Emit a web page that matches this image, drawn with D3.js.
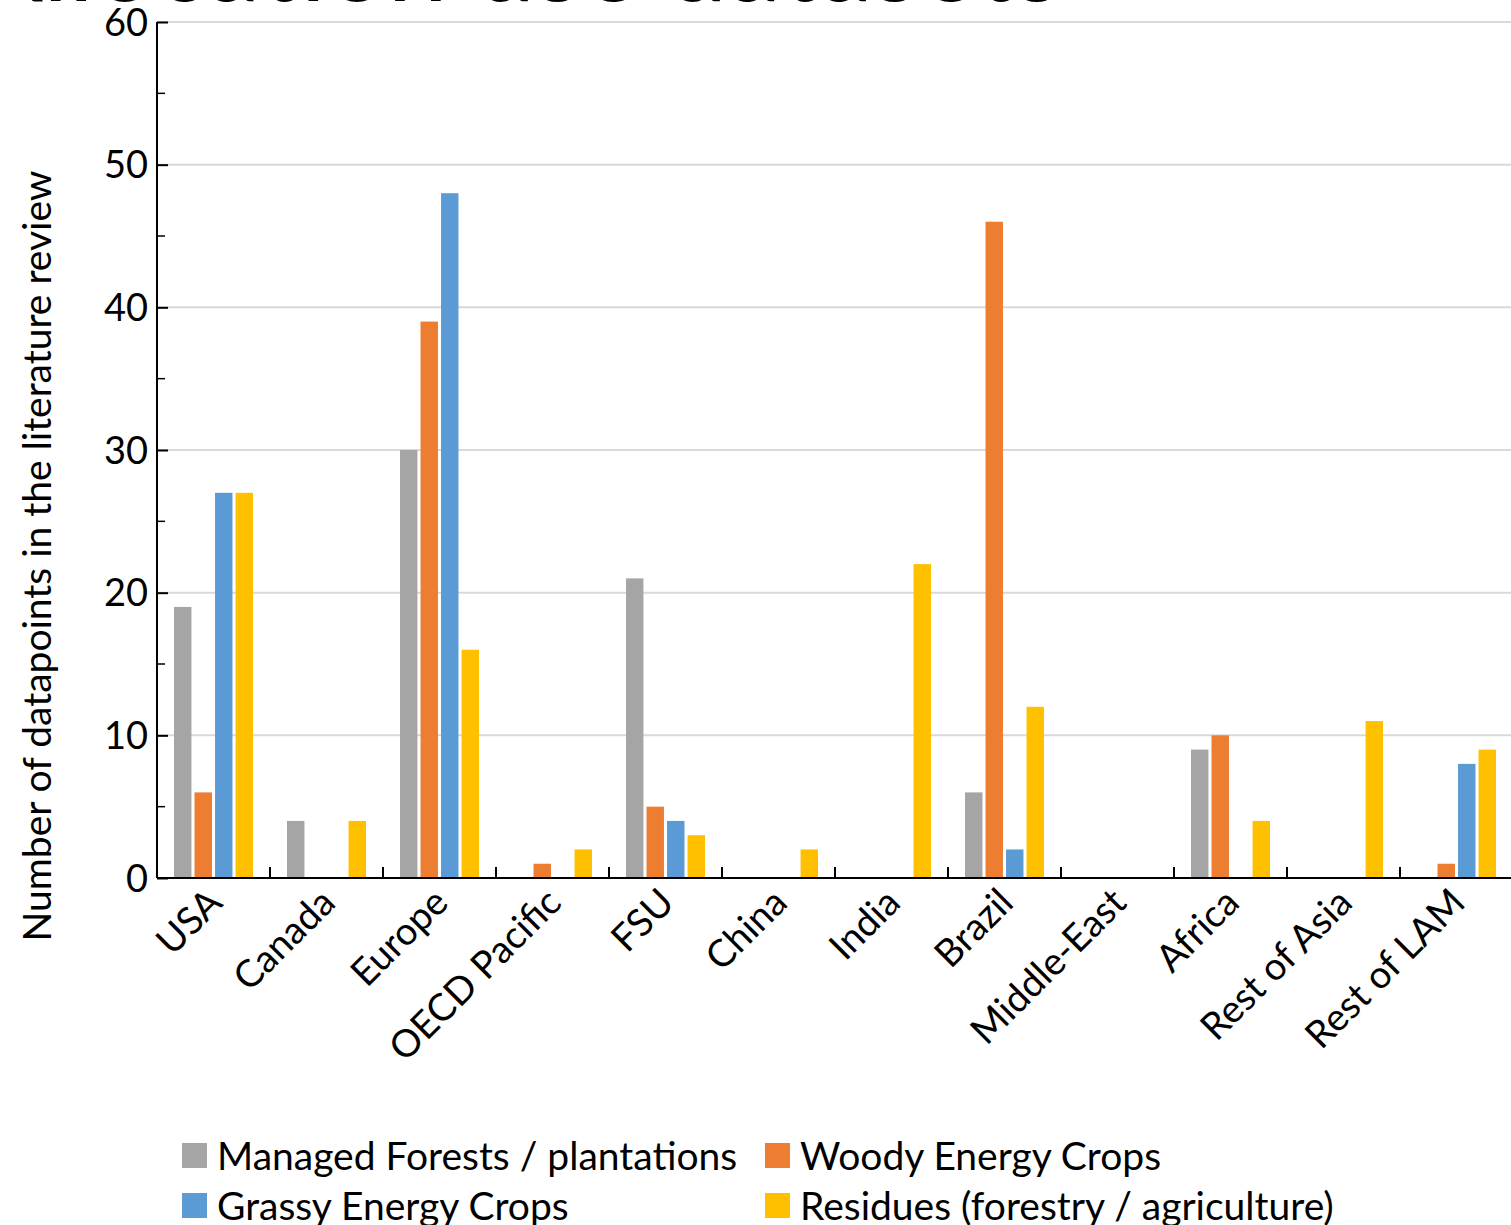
<!DOCTYPE html>
<html><head><meta charset="utf-8">
<script src="https://cdn.jsdelivr.net/npm/d3@7"></script>
<style>body{margin:0;background:#fff;} text{font-family:Lato,"Open Sans",sans-serif;}</style>
</head><body>
<svg id="c" width="1511" height="1225"></svg>
<script>
const categories = ["USA","Canada","Europe","OECD Pacific","FSU","China","India","Brazil","Middle-East","Africa","Rest of Asia","Rest of LAM"];
const seriesNames = ["Managed Forests / plantations","Woody Energy Crops","Grassy Energy Crops","Residues (forestry / agriculture)"];
const managedForests = [19,4,30,0,21,0,0,6,0,9,0,0];
const woodyCrops     = [6,0,39,1,5,0,0,46,0,10,0,1];
const grassyCrops    = [27,0,48,0,4,0,0,2,0,0,0,8];
const residues       = [27,4,16,2,3,2,22,12,0,4,11,9];
const colors = ["#A5A5A5","#ED7D31","#5B9BD5","#FFC000"];
const yTicks = [0,10,20,30,40,50,60];
const seriesValues = [managedForests, woodyCrops, grassyCrops, residues];

const svg = d3.select("#c");
const pLeft = 157, pRight = 1513, pTop = 22, pBottom = 878;

// partially visible title (cut off at the top edge, as in the reference)
svg.append("text").attr("x", -30).attr("y", 1).attr("font-size", 108)
  .attr("fill","#000").text("Allocation use datasets");

const x0 = d3.scaleBand().domain(categories).range([pLeft, pRight]).padding(0);
const x1 = d3.scaleBand().domain(d3.range(4)).range([17, 96]).paddingInner(0.15).paddingOuter(0);
const y = d3.scaleLinear().domain([0,60]).range([pBottom, pTop]);

// gridlines
svg.append("g").selectAll("line").data(yTicks.filter(d=>d>0)).join("line")
  .attr("x1", pLeft).attr("x2", 1511).attr("y1", d=>y(d)).attr("y2", d=>y(d))
  .attr("stroke", "#d9d9d9").attr("stroke-width", 2);

// bars
const g = svg.append("g");
categories.forEach((c, i) => {
  seriesValues.forEach((vals, s) => {
    if (vals[i] > 0) {
      g.append("rect")
        .attr("x", x0(c) + x1(s))
        .attr("width", x1.bandwidth())
        .attr("y", y(vals[i]))
        .attr("height", y(0) - y(vals[i]))
        .attr("fill", colors[s]);
    }
  });
});

// y axis
const yAxis = d3.axisLeft(y).tickValues(yTicks).tickSize(-11).tickPadding(9).tickFormat(d3.format("d"));
const ya = svg.append("g").attr("transform", `translate(${pLeft},0)`).call(yAxis);
ya.select(".domain").attr("stroke","#000").attr("stroke-width",2).attr("d", `M0,${pTop}V${pBottom}`);
ya.selectAll(".tick line").attr("stroke","#000").attr("stroke-width",2);
ya.selectAll(".tick text").attr("font-size",38).attr("fill","#000").attr("font-family","Lato").attr("dy","0.35em");
// minor ticks
const minor = d3.range(5,60,10);
svg.append("g").selectAll("line").data(minor).join("line")
  .attr("x1", pLeft).attr("x2", pLeft+8).attr("y1", d=>y(d)).attr("y2", d=>y(d))
  .attr("stroke","#000").attr("stroke-width",1.5);

// x axis
svg.append("line").attr("x1", pLeft).attr("x2", 1511).attr("y1", pBottom).attr("y2", pBottom)
  .attr("stroke","#000").attr("stroke-width",2);
svg.append("g").selectAll("line").data(categories.slice(1)).join("line")
  .attr("x1", d=>x0(d)).attr("x2", d=>x0(d)).attr("y1", pBottom).attr("y2", pBottom-11)
  .attr("stroke","#000").attr("stroke-width",2);
svg.append("g").selectAll("text").data(categories).join("text")
  .attr("transform", d=>`translate(${x0(d)+x0.bandwidth()/2-8},${pBottom+8}) rotate(-45)`)
  .attr("text-anchor","end").attr("dy","0.7em").attr("font-size",38).attr("fill","#000")
  .text(d=>d);

// y axis title
svg.append("text").attr("transform", `translate(51,${(170+942)/2}) rotate(-90)`)
  .attr("text-anchor","middle").attr("font-size",39).attr("fill","#000")
  .text("Number of datapoints in the literature review");

// legend
const legPos = [[182,1156],[765,1156],[182,1206],[765,1206]];
const leg = svg.append("g");
seriesNames.forEach((n, i) => {
  const [lx, ly] = legPos[i];
  leg.append("rect").attr("x", lx).attr("y", ly-13).attr("width", 25).attr("height", 25).attr("fill", colors[i]);
  leg.append("text").attr("x", lx+35).attr("y", ly).attr("dy","0.35em").attr("font-size",39).attr("fill","#000").text(n);
});
</script>
</body></html>
